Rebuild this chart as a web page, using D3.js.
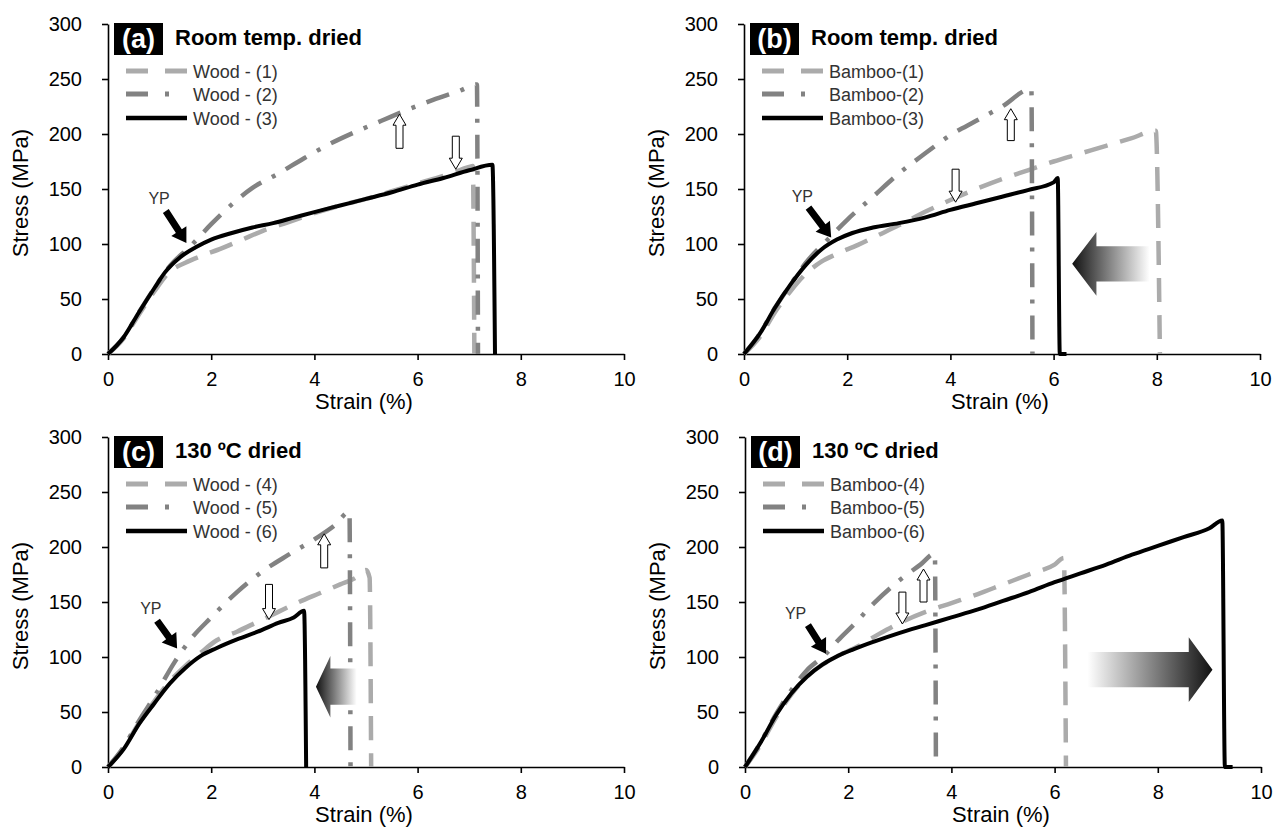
<!DOCTYPE html>
<html>
<head>
<meta charset="utf-8">
<script src="https://cdn.jsdelivr.net/npm/d3@7"></script>
<style>
  body { margin: 0; background: #fff; }
  svg { display: block; font-family: Arial, "Liberation Sans", sans-serif; }
</style>
</head>
<body>
<svg id="chart"></svg>
<script>
var svgWidth = 1273;
var svgHeight = 829;
var plotW = 516;
var plotH = 330;

// ticks
var strainTicks = [0, 2, 4, 6, 8, 10];
var stressTicks = [0, 50, 100, 150, 200, 250, 300];

// legend labels
var labelsA = ["Wood - (1)", "Wood - (2)", "Wood - (3)"];
var labelsB = ["Bamboo-(1)", "Bamboo-(2)", "Bamboo-(3)"];
var labelsC = ["Wood - (4)", "Wood - (5)", "Wood - (6)"];
var labelsD = ["Bamboo-(4)", "Bamboo-(5)", "Bamboo-(6)"];

// [strain %, stress MPa]
var wood1 = [[0,0],[0.3,14],[0.6,36],[0.9,57],[1.2,75],[1.5,83],[1.8,89],[2.2,96],[2.6,104],[3.0,112],[3.5,120],[4.0,128],[4.5,135],[5.0,141],[5.5,148],[6.0,155],[6.5,162],[7.0,170],[7.07,171],[7.1,0]];
var wood2 = [[0,0],[0.3,15],[0.6,38],[0.9,60],[1.2,80],[1.6,98],[2.0,118],[2.4,136],[2.8,151],[3.3,164],[3.8,178],[4.3,191],[4.8,202],[5.3,212],[5.8,222],[6.3,231],[6.8,239],[7.15,245],[7.17,0]];
var wood3 = [[0,0],[0.3,15],[0.6,38],[0.9,60],[1.1,74],[1.4,88],[1.7,97],[2.0,104],[2.4,110],[2.8,115],[3.2,119],[3.6,124],[4.0,129],[4.5,135],[5.0,141],[5.5,147],[6.0,154],[6.5,160],[7.0,167],[7.45,172],[7.5,0]];

var bamboo1 = [[0,0],[0.3,15],[0.6,38],[0.9,57],[1.2,73],[1.5,84],[1.8,91],[2.2,99],[2.6,108],[3.0,117],[3.5,129],[4.0,140],[4.5,150],[5.0,159],[5.5,167],[6.0,175],[6.5,182],[7.0,189],[7.5,196],[7.98,203],[8.06,0]];
var bamboo2 = [[0,0],[0.3,18],[0.6,42],[0.9,63],[1.2,83],[1.6,103],[2.0,122],[2.5,143],[3.0,164],[3.5,182],[4.0,199],[4.5,212],[5.0,225],[5.57,241],[5.59,0]];
var bamboo3 = [[0,0],[0.3,18],[0.6,42],[0.9,63],[1.2,81],[1.5,95],[1.8,104],[2.1,110],[2.5,115],[3.0,119],[3.5,124],[4.0,131],[4.5,137],[5.0,143],[5.5,149],[6.0,156],[6.08,160],[6.12,0],[6.25,0]];

var wood4 = [[0,0],[0.3,17],[0.6,40],[0.9,60],[1.2,78],[1.5,92],[1.8,104],[2.1,115],[2.5,123],[2.9,132],[3.3,141],[3.7,150],[4.1,158],[4.5,166],[4.8,172],[5.0,179],[5.07,172],[5.1,0]];
var wood5 = [[0,0],[0.3,18],[0.6,42],[0.9,64],[1.3,96],[1.6,116],[2.0,136],[2.5,159],[3.0,178],[3.5,193],[4.0,207],[4.4,220],[4.68,232],[4.7,0]];
var wood6 = [[0,0],[0.3,16],[0.6,39],[0.9,58],[1.2,76],[1.5,90],[1.8,101],[2.1,108],[2.5,116],[2.9,123],[3.3,131],[3.6,136],[3.8,142],[3.84,0]];

var bamboo4 = [[0,0],[0.3,20],[0.6,45],[0.9,66],[1.2,82],[1.5,93],[1.8,101],[2.2,110],[2.6,121],[3.0,131],[3.5,141],[4.0,149],[4.5,157],[5.0,166],[5.5,175],[6.0,184],[6.18,190],[6.22,0]];
var bamboo5 = [[0,0],[0.3,22],[0.6,48],[0.9,70],[1.2,88],[1.55,102],[1.8,115],[2.1,129],[2.5,149],[3.0,170],[3.4,184],[3.68,194],[3.7,0]];
var bamboo6 = [[0,0],[0.3,22],[0.6,47],[0.9,67],[1.2,82],[1.5,93],[1.8,101],[2.1,107],[2.5,114],[3.0,122],[3.5,129],[4.0,136],[4.5,143],[5.0,151],[5.5,159],[6.0,168],[6.5,176],[7.0,184],[7.5,193],[8.0,201],[8.5,209],[9.0,217],[9.25,224],[9.3,0],[9.45,0]];

// line styles for specimen 1/2/3 in each panel
var styles = [
  {color: "#ababab", width: 4.5, dash: "24,13", legendDash: "22,17"},
  {color: "#828282", width: 4.5, dash: "24,12,4,12", legendDash: "22,17,4,30"},
  {color: "#000000", width: 4, dash: null, legendDash: null}
];

var panels = [
  {tag: "(a)", title: "Room temp. dried", left: 108, top: 24, series: [wood1, wood2, wood3], labels: labelsA,
   yp: {text: [0.99, 136], from: [1.12, 130], to: [1.52, 101]},
   up: {x: 5.65, tip: 218, tail: 187}, down: {x: 6.74, tip: 168, tail: 198}, grad: null},
  {tag: "(b)", title: "Room temp. dried", left: 744, top: 24, series: [bamboo1, bamboo2, bamboo3], labels: labelsB,
   yp: {text: [1.13, 138], from: [1.25, 133], to: [1.69, 106]},
   up: {x: 5.17, tip: 223, tail: 194}, down: {x: 4.1, tip: 138, tail: 168},
   grad: {tail: 7.86, tip: 6.36, base: 6.83, mid: 82, shaft: 16, head: 29}},
  {tag: "(c)", title: "130 ºC dried", left: 108, top: 437, series: [wood4, wood5, wood6], labels: labelsC,
   yp: {text: [0.83, 139], from: [0.95, 133], to: [1.34, 107.6]},
   up: {x: 4.19, tip: 212, tail: 181}, down: {x: 3.12, tip: 134, tail: 166},
   grad: {tail: 4.82, tip: 4.03, base: 4.31, mid: 73, shaft: 16.5, head: 28}},
  {tag: "(d)", title: "130 ºC dried", left: 745, top: 437, series: [bamboo4, bamboo5, bamboo6], labels: labelsD,
   yp: {text: [0.98, 135], from: [1.22, 129], to: [1.57, 103]},
   up: {x: 3.46, tip: 180, tail: 150}, down: {x: 3.05, tip: 130, tail: 159},
   grad: {tail: 6.64, tip: 9.06, base: 8.6, mid: 88.5, shaft: 16, head: 29.5}}
];

var svg = d3.select("#chart")
  .attr("width", svgWidth)
  .attr("height", svgHeight);

var defs = svg.append("defs");

// polygon arrow from (x0,y0) to tip (x1,y1), in pixels
function arrowPath(x0, y0, x1, y1, w, hw, hl) {
  var dx = x1 - x0, dy = y1 - y0, len = Math.hypot(dx, dy);
  var ux = dx / len, uy = dy / len, px = -uy, py = ux;
  var bx = x1 - ux * hl, by = y1 - uy * hl;
  var pts = [
    [x0 + px * w, y0 + py * w], [bx + px * w, by + py * w], [bx + px * hw, by + py * hw],
    [x1, y1],
    [bx - px * hw, by - py * hw], [bx - px * w, by - py * w], [x0 - px * w, y0 - py * w]
  ];
  return "M" + pts.map(p => p[0].toFixed(1) + "," + p[1].toFixed(1)).join("L") + "Z";
}

panels.forEach(function(p, i) {
  var x = d3.scaleLinear().domain([0, 10]).range([0, plotW]);
  var y = d3.scaleLinear().domain([0, 300]).range([plotH, 0]);

  var g = svg.append("g").attr("transform", `translate(${p.left},${p.top})`);

  // axes
  var xAxis = g.append("g")
    .attr("transform", `translate(0,${plotH})`)
    .call(d3.axisBottom(x).tickValues(strainTicks).tickSize(6).tickPadding(12).tickSizeOuter(0));
  var yAxis = g.append("g")
    .call(d3.axisLeft(y).tickValues(stressTicks).tickSize(6).tickPadding(20).tickSizeOuter(0));
  [xAxis, yAxis].forEach(function(a) {
    a.select(".domain").attr("stroke", "#000").attr("stroke-width", 1.6);
    a.selectAll(".tick line").attr("stroke", "#000").attr("stroke-width", 1.6);
    a.selectAll(".tick text").attr("fill", "#000").style("font-size", "20px").style("font-family", "Arial, 'Liberation Sans', sans-serif");
  });

  g.append("text")
    .attr("x", plotW / 2 - 2)
    .attr("y", plotH + 55)
    .attr("text-anchor", "middle")
    .style("font-size", "22px")
    .text("Strain (%)");

  g.append("text")
    .attr("transform", `translate(${-80},${plotH / 2 + 4}) rotate(-90)`)
    .attr("text-anchor", "middle")
    .style("font-size", "22px")
    .text("Stress (MPa)");

  // curves
  var line = d3.line()
    .x(d => x(d[0]))
    .y(d => y(d[1]))
    .curve(d3.curveMonotoneX);

  p.series.forEach(function(s, k) {
    var st = styles[k];
    g.append("path")
      .datum(s)
      .attr("fill", "none")
      .attr("stroke", st.color)
      .attr("stroke-width", st.width)
      .attr("stroke-linejoin", "round")
      .attr("stroke-dasharray", st.dash)
      .attr("d", line);
  });

  // panel tag and title
  g.append("rect")
    .attr("x", 6).attr("y", -1)
    .attr("width", 49).attr("height", 32)
    .attr("fill", "#000");
  g.append("text")
    .attr("x", 30.5).attr("y", 24)
    .attr("text-anchor", "middle")
    .attr("fill", "#fff")
    .style("font-size", "27px")
    .style("font-weight", "bold")
    .text(p.tag);
  g.append("text")
    .attr("x", 67).attr("y", 21)
    .style("font-size", "22px")
    .style("font-weight", "bold")
    .text(p.title);

  // legend
  var rows = [47, 70, 94];
  p.labels.forEach(function(lab, k) {
    var st = styles[k];
    g.append("line")
      .attr("x1", 18).attr("x2", 79)
      .attr("y1", rows[k]).attr("y2", rows[k])
      .attr("stroke", st.color)
      .attr("stroke-width", st.width + 0.5)
      .attr("stroke-dasharray", st.legendDash);
    g.append("text")
      .attr("x", 85).attr("y", rows[k] + 6.5)
      .attr("fill", "#333")
      .style("font-size", "18px")
      .text(lab);
  });

  // YP label and arrow
  g.append("text")
    .attr("x", x(p.yp.text[0])).attr("y", y(p.yp.text[1]))
    .attr("text-anchor", "middle")
    .attr("fill", "#333")
    .style("font-size", "16px")
    .text("YP");
  g.append("path")
    .attr("d", arrowPath(x(p.yp.from[0]), y(p.yp.from[1]), x(p.yp.to[0]), y(p.yp.to[1]), 3.5, 9, 14))
    .attr("fill", "#000");

  // white up / down arrows
  [p.up, p.down].forEach(function(a) {
    g.append("path")
      .attr("d", arrowPath(x(a.x), y(a.tail), x(a.x), y(a.tip), 3.5, 6.5, 11))
      .attr("fill", "#fff")
      .attr("stroke", "#000")
      .attr("stroke-width", 1);
  });

  // shaded arrow showing the shift in failure strain
  if (p.grad) {
    var a = p.grad;
    var gid = "grad" + i;
    defs.append("linearGradient")
      .attr("id", gid)
      .attr("gradientUnits", "userSpaceOnUse")
      .attr("x1", p.left + x(a.tail)).attr("x2", p.left + x(a.tip))
      .attr("y1", 0).attr("y2", 0)
      .selectAll("stop")
      .data([["0%", "#ffffff"], ["100%", "#111111"]])
      .join("stop")
        .attr("offset", d => d[0])
        .attr("stop-color", d => d[1]);
    var cy = y(a.mid);
    var sh = y(a.mid - a.shaft) - cy;
    var hh = y(a.mid - a.head) - cy;
    var pts = [
      [x(a.tail), cy - sh], [x(a.base), cy - sh], [x(a.base), cy - hh],
      [x(a.tip), cy],
      [x(a.base), cy + hh], [x(a.base), cy + sh], [x(a.tail), cy + sh]
    ];
    g.append("path")
      .attr("d", "M" + pts.map(q => q.join(",")).join("L") + "Z")
      .attr("transform", `translate(${-p.left},0)`)
      .attr("fill", `url(#${gid})`);
  }
});

// gradient paths use absolute user space; shift them back into panel space
svg.selectAll("path[fill^='url']").attr("transform", null);
svg.selectAll("linearGradient").each(function(d, i) {
  var el = d3.select(this);
  var p = panels.filter(q => q.grad)[i];
  el.attr("x1", +el.attr("x1") - p.left).attr("x2", +el.attr("x2") - p.left);
});
</script>
</body>
</html>
